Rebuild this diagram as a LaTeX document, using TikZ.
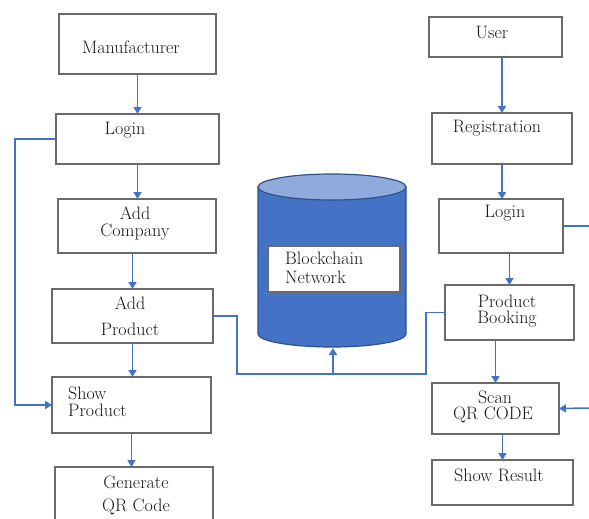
\documentclass[tikz,border=0pt]{standalone}
\usepackage{fontspec}
\usetikzlibrary{arrows.meta}
\definecolor{lnblue}{HTML}{4472C4}
\definecolor{cyltop}{HTML}{8FAADC}
\definecolor{cylline}{HTML}{2F528F}
\definecolor{boxline}{HTML}{6A6A6A}
\tikzset{
  box/.style={draw=boxline, line width=1.4pt, fill=white, inner sep=0pt, outer sep=0pt},
  lbl/.style={inner sep=0pt, font=\fontsize{18}{20}\selectfont, text=black!90},
  conn/.style={draw=lnblue, line width=1.6pt},
  arr/.style={conn, -{Triangle[length=7pt,width=8pt]}}
}
\begin{document}
\begin{tikzpicture}[x=1pt,y=-1pt]
\useasboundingbox (0,0) rectangle (589,519);
\fill[white] (0,0) rectangle (589,519);
\clip (0,0) rectangle (589,519);
% left column boxes
\node[box, minimum width=157, minimum height=60] (man) at (137.5,44) {};
\node[box, minimum width=163, minimum height=50] (login1) at (137.5,139) {};
\node[box, minimum width=158, minimum height=54] (addc) at (137,226) {};
\node[box, minimum width=161, minimum height=54] (addp) at (132.5,316) {};
\node[box, minimum width=159, minimum height=56] (showp) at (131.5,405) {};
\node[box, minimum width=158, minimum height=70] (gen) at (134,502) {};
% right column boxes
\node[box, minimum width=133, minimum height=40] (user) at (495.5,37) {};
\node[box, minimum width=140, minimum height=51] (reg) at (502,138.5) {};
\node[box, minimum width=124, minimum height=54] (login2) at (501,226) {};
\node[box, minimum width=129, minimum height=55] (pbook) at (509.5,312.5) {};
\node[box, minimum width=127, minimum height=51] (scan) at (495.5,408.5) {};
\node[box, minimum width=141, minimum height=45] (result) at (502.5,482.5) {};
% cylinder
\filldraw[fill=lnblue, draw=cylline, line width=1.2pt]
  (258,187) -- (258,334) arc[start angle=180, end angle=0, x radius=74, y radius=13] -- (406,187) -- cycle;
\filldraw[fill=cyltop, draw=cylline, line width=1.2pt] (332,187) ellipse[x radius=74, y radius=13];
\coordinate (cylbot) at (333,348);
\node[box, minimum width=132, minimum height=46] (bcbox) at (334,269) {};
% texts
\node[lbl] (tman) at (131,47) {Manufacturer};
\node[lbl] (tlog1) at (125,130) {Login};
\node[lbl] (taddc1) at (135,213) {Add};
\node[lbl] (taddc2) at (135,232) {Company};
\node[lbl] (taddp1) at (130,303) {Add};
\node[lbl] (taddp2) at (130,329) {Product};
\node[lbl, anchor=west] (tshow1) at (68,393) {Show};
\node[lbl, anchor=west] (tshow2) at (68,410) {Product};
\node[lbl] (tgen1) at (136,482) {Generate};
\node[lbl] (tgen2) at (136,507) {QR Code};
\node[lbl] (tuser) at (492,32) {User};
\node[lbl] (treg) at (497,128) {Registration};
\node[lbl] (tlog2) at (505,213) {Login};
\node[lbl] (tpb1) at (507,301) {Product};
\node[lbl] (tpb2) at (507,319) {Booking};
\node[lbl] (tscan1) at (495,397) {Scan};
\node[lbl] (tscan2) at (493,415) {QR CODE};
\node[lbl] (tres) at (499,475) {Show Result};
\node[lbl, anchor=west] (tbc1) at (285,258) {Blockchain};
\node[lbl, anchor=west] (tbc2) at (285,277) {Network};
% left connectors
\draw[arr] (man.south) -- (man.south |- login1.north);
\draw[arr] (login1.south) -- (login1.south |- addc.north);
\draw[arr] (addc.south -| addp.north) -- (addp.north);
\draw[arr] (addp.south) -- (addp.south |- showp.north);
\draw[arr] (showp.south) -- (showp.south |- gen.north);
\coordinate (lx) at (15,0);
\draw[arr] (login1.west) -- (login1.west -| lx) |- (showp.west);
% to blockchain
\coordinate (j1) at (237,374);
\coordinate (j2) at (426,374);
\coordinate (jm) at (333,374);
\draw[conn] (addp.east) -| (j1) -- (j2) |- (pbook.west);
\draw[arr] (jm) -- (cylbot);
% right connectors
\draw[arr] (user.south -| reg.north) -- (reg.north);
\draw[arr] (reg.south) -- (reg.south |- login2.north);
\draw[arr] (login2.south -| pbook.north) -- (pbook.north);
\draw[arr] (pbook.south -| scan.north) -- (scan.north);
\draw[arr] (scan.south -| result.north) -- (result.north);
\coordinate (rx1) at (595,226);
\coordinate (rx2) at (595,408);
\draw[conn] (login2.east) -- (rx1);
\draw[arr] (rx2) -- (scan.east);
\end{tikzpicture}
\end{document}
